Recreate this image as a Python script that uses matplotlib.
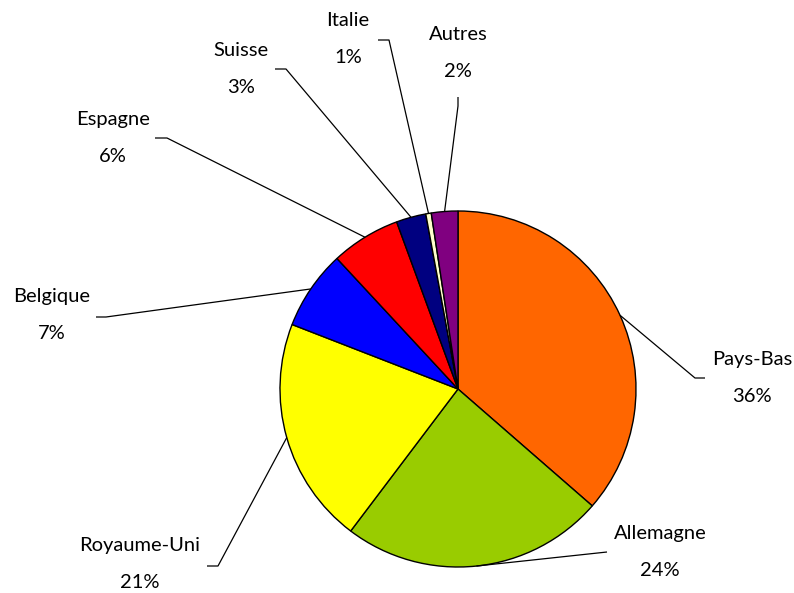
import matplotlib
matplotlib.use("Agg")
import matplotlib.pyplot as plt
import numpy as np

plt.rcParams['font.family'] = ['Lato', 'DejaVu Sans']

categories = ["Pays-Bas", "Allemagne", "Royaume-Uni", "Belgique", "Espagne", "Suisse", "Italie", "Autres"]
values = [36.4, 23.9, 20.6, 7.2, 6.3, 2.7, 0.5, 2.4]
pct_labels = ["36%", "24%", "21%", "7%", "6%", "3%", "1%", "2%"]
colors = ["#FF6600", "#99CC00", "#FFFF00", "#0000FF", "#FF0000", "#000080", "#FFFFCC", "#800080"]

# layout (pixel coords, y from top)
W, H = 794, 593
cx, cy, R = 458, 389, 178
label_pos = [(752, 378), (660, 552), (140, 564), (52, 315), (113, 138), (241, 69), (348, 39), (458, 53)]
knees = [(695, 378), (607, 552), (218, 566), (106, 317), (167, 138), (286, 69), (389, 40), (458, 106)]
ends = [(705, 378), (607, 552), (207, 566), (96, 317), (155, 138), (275, 69), (378, 40), (458, 97)]

fig = plt.figure(figsize=(W / 100, H / 100), dpi=100)
ax = fig.add_axes([0, 0, 1, 1])

wedges, _ = ax.pie(values, colors=colors, startangle=90, counterclock=False,
                   center=(cx, H - cy), radius=R, frame=False,
                   wedgeprops=dict(edgecolor='black', linewidth=1.0))
ax.set_xlim(0, W)
ax.set_ylim(0, H)
ax.set_aspect('equal')
ax.axis('off')

for w, name, pct, lp, kn, en in zip(wedges, categories, pct_labels, label_pos, knees, ends):
    ang = np.deg2rad((w.theta1 + w.theta2) / 2)
    sx = cx + R * np.cos(ang)
    sy = (H - cy) + R * np.sin(ang)
    ax.plot([sx, kn[0], en[0]], [sy, H - kn[1], H - en[1]], color='black', lw=0.9, solid_capstyle='butt')
    ax.text(lp[0], H - lp[1], f"{name}\n{pct}", ha='center', va='center',
            fontsize=14.5, linespacing=2.4, color='black')

fig.savefig("out.png", dpi=100)
